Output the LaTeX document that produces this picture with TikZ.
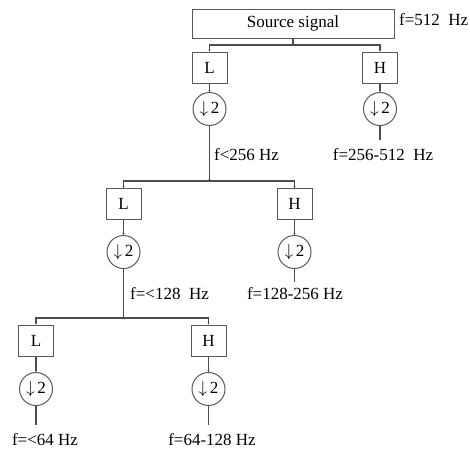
\documentclass[tikz,border=0pt]{standalone}
\usepackage{fontspec}
\setmainfont{Liberation Serif}
\usepackage{tikz}
\usetikzlibrary{arrows.meta, positioning}

\begin{document}
\begin{tikzpicture}[x=1pt, y=-1pt,
    blk/.style={draw=gray!70!black, line width=1pt, font=\fontsize{17}{19}\selectfont, minimum width=35pt, minimum height=31pt, inner sep=0pt},
    dn/.style={draw=gray!70!black, line width=1pt, circle, font=\fontsize{17}{19}\selectfont, minimum size=33pt, inner sep=0pt},
    lbl/.style={font=\fontsize{17}{19}\selectfont, inner sep=0pt},
    ln/.style={draw=gray!60!black, line width=1.1pt},
    arr/.style={ln, -{Stealth[length=1.8pt, width=2.2pt]}}]
  \useasboundingbox (0,0) rectangle (470,450);
  % level 1
  \node[blk, minimum width=202pt, minimum height=29pt] (src) at (293,23.5) {Source signal};
  \node[lbl, anchor=west] (fsrc) at (399,20) {f=512~ Hz};
  \coordinate (b1) at (293,45);
  \node[blk] (L1) at (209.5,67.5) {L};
  \node[blk] (H1) at (380,67.5) {H};
  \node[dn] (dL1) at (209.5,109) {$\downarrow$\,2};
  \node[dn] (dH1) at (380,109) {$\downarrow$\,2};
  \coordinate (eH1) at (380,140);
  \draw[ln] (src.south) -- (b1);
  \draw[arr] (b1) -| (L1.north);
  \draw[arr] (b1) -| (H1.north);
  \draw[arr] (L1) -- (dL1);
  \draw[arr] (H1) -- (dH1);
  \draw[ln] (dH1) -- (eH1);
  \node[lbl, anchor=west] (fL1) at (214,155) {f<256 Hz};
  \node[lbl] (fH1) at (383,155) {f=256-512~ Hz};
  % level 2
  \coordinate (b2) at (209.5,181);
  \node[blk] (L2) at (123.5,204) {L};
  \node[blk] (H2) at (294.5,204) {H};
  \node[dn] (dL2) at (123.5,252) {$\downarrow$\,2};
  \node[dn] (dH2) at (294.5,252) {$\downarrow$\,2};
  \coordinate (eH2) at (294.5,282);
  \draw[arr] (dL1) -- (b2);
  \draw[arr] (b2) -| (L2.north);
  \draw[arr] (b2) -| (H2.north);
  \draw[arr] (L2) -- (dL2);
  \draw[arr] (H2) -- (dH2);
  \draw[ln] (dH2) -- (eH2);
  \node[lbl, anchor=west] (fL2) at (130,294) {f=<128~ Hz};
  \node[lbl] (fH2) at (295,294) {f=128-256 Hz};
  % level 3
  \coordinate (b3) at (123.5,318);
  \node[blk] (L3) at (36,340.5) {L};
  \node[blk] (H3) at (208.5,340.5) {H};
  \node[dn] (dL3) at (36,389) {$\downarrow$\,2};
  \node[dn] (dH3) at (208.5,389) {$\downarrow$\,2};
  \coordinate (eL3) at (36,425);
  \coordinate (eH3) at (208.5,425);
  \draw[ln] (dL2) -- (b3);
  \draw[arr] (b3) -| (L3.north);
  \draw[arr] (b3) -| (H3.north);
  \draw[arr] (L3) -- (dL3);
  \draw[arr] (H3) -- (dH3);
  \draw[ln] (dL3) -- (eL3);
  \draw[ln] (dH3) -- (eH3);
  \node[lbl] (fL3) at (45,440) {f=<64 Hz};
  \node[lbl] (fH3) at (212,440) {f=64-128 Hz};
\end{tikzpicture}
\end{document}
